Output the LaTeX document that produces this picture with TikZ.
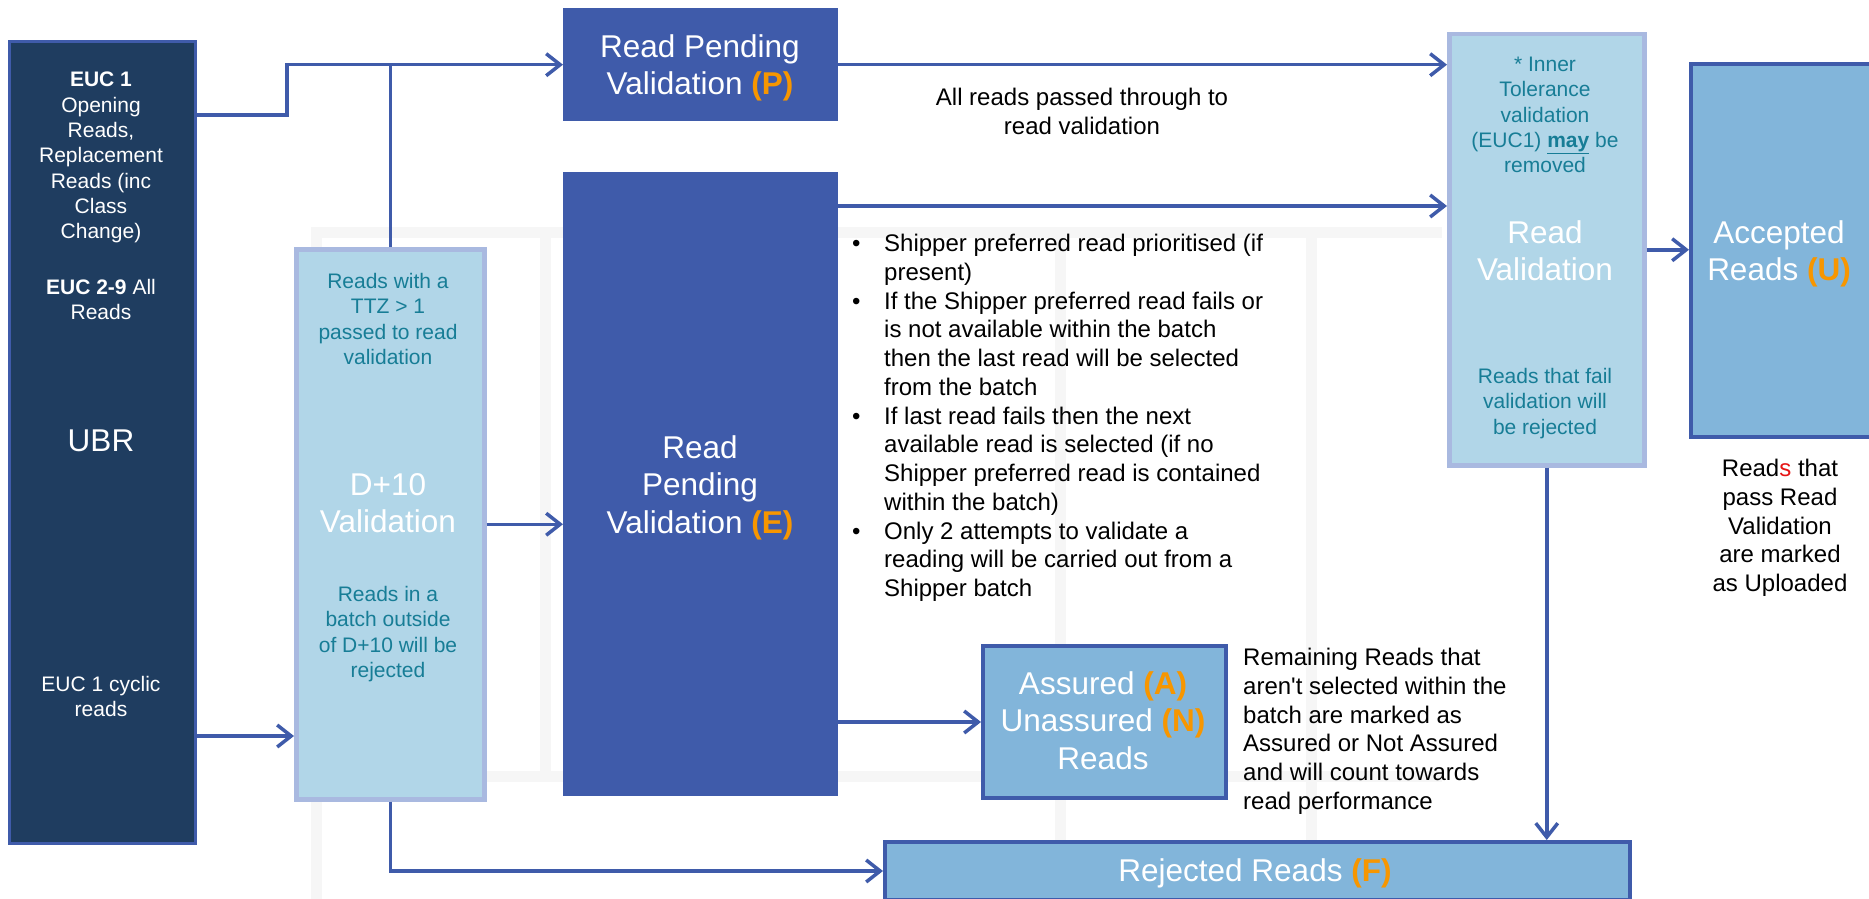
\documentclass[tikz,border=0pt]{standalone}
\usepackage{fontspec}
\setmainfont{Liberation Sans}
\usetikzlibrary{arrows.meta}
\definecolor{navyfill}{RGB}{31,61,96}
\definecolor{lineblue}{RGB}{63,91,170}
\definecolor{paleblue}{RGB}{177,214,232}
\definecolor{lavborder}{RGB}{169,185,224}
\definecolor{midblue}{RGB}{130,181,218}
\definecolor{tealtext}{RGB}{23,125,150}
\definecolor{orangetag}{RGB}{247,150,0}
\definecolor{redletter}{RGB}{230,20,20}
\definecolor{watermark}{RGB}{246,246,246}
\newcommand{\fsz}[2]{\fontsize{#1}{#2}\selectfont}
\newcommand{\tagO}[1]{\textbf{\textcolor{orangetag}{#1}}}
\newcommand{\bul}{\makebox[32pt][l]{\textbullet}}
\newcommand{\ind}{\hspace*{32pt}}
\tikzset{
  box/.style={rectangle, inner sep=0pt, anchor=north west},
  navybox/.style={box, fill=navyfill, draw=lineblue, line width=3pt},
  darkbox/.style={box, fill=lineblue},
  palebox/.style={box, fill=paleblue, draw=lavborder, line width=4.5pt},
  midbox/.style={box, fill=midblue, draw=lineblue, line width=4pt},
  txt/.style={inner sep=0pt, align=center, anchor=north},
  ltxt/.style={inner sep=0pt, align=left, anchor=north west},
  small/.style={font=\fsz{21}{25.3}},
  big/.style={font=\fsz{31.5}{37.8}},
  note/.style={font=\fsz{24}{28.75}},
  conn/.style={draw=lineblue, line width=3.5pt},
  arr/.style={conn, -{Straight Barb[length=14pt, width=22pt, line width=3.5pt]}},
  wmark/.style={draw=watermark, line width=11pt},
}
\begin{document}
\begin{tikzpicture}[x=1pt, y=-1pt]
\useasboundingbox (0,0) rectangle (1869,899);
\clip (0,0) rectangle (1869,899);
\fill[white] (0,0) rectangle (1869,899);
% faint watermark
\draw[wmark] (316,905) -- (316,232) -- (1442,232);
\draw[wmark] (316,776) -- (1442,776);
\draw[wmark] (545,232) -- (545,776);
\draw[wmark] (1060,232) -- (1060,905);
\draw[wmark] (1311,232) -- (1311,905);
% boxes
\node[navybox, minimum width=186pt, minimum height=802pt] (ubr) at (8,40) {};
\node[darkbox, minimum width=275pt, minimum height=113pt] (pv) at (563,8) {};
\node[darkbox, minimum width=275pt, minimum height=624pt] (ev) at (563,172) {};
\node[palebox, minimum width=188pt, minimum height=550pt] (d10) at (294,247) {};
\node[palebox, minimum width=195pt, minimum height=431pt] (rv) at (1447,32) {};
\node[midbox, minimum width=200pt, minimum height=373pt] (acc) at (1689,62) {};
\node[midbox, minimum width=243pt, minimum height=152pt] (asr) at (981,644) {};
\node[midbox, minimum width=745pt, minimum height=58pt] (rej) at (883,840) {};
% coordinates for connector routing
\coordinate (jP) at (287,115);
\coordinate (yE) at (0,206);
\coordinate (yC) at (0,736);
% connectors
\draw[arr] (ubr.east |- jP) -- (jP) |- (pv.west);
\draw[conn] (d10.north) -- (d10.north |- pv.west);
\draw[arr] (pv.east) -- (pv.east -| rv.west);
\draw[arr] (ev.east |- yE) -- (rv.west |- yE);
\draw[arr] (rv.east) -- (rv.east -| acc.west);
\draw[arr] (ubr.east |- yC) -- (d10.west |- yC);
\draw[arr] (d10.east) -- (d10.east -| ev.west);
\draw[arr] (ev.east |- asr.west) -- (asr.west);
\draw[arr] (d10.south) |- (rej.west);
\draw[arr] (rv.south) -- (rv.south |- rej.north);
% texts in UBR
\node[txt, small, text=white] (ubrA) at (101,72) {\textbf{EUC 1}\\Opening\\Reads,\\Replacement\\Reads (inc\\Class\\Change)};
\node[txt, small, text=white] (ubrB) at (101,279) {\textbf{EUC 2-9} All\\Reads};
\node[txt, big, text=white] (ubrC) at (101,430) {UBR};
\node[txt, small, text=white] (ubrD) at (101,676) {EUC 1 cyclic\\reads};
% texts in D+10
\node[txt, small, text=tealtext] (d10A) at (388,273) {Reads with a\\TTZ > 1\\passed to read\\validation};
\node[txt, big, text=white] (d10B) at (388,473) {D+10\\Validation};
\node[txt, small, text=tealtext] (d10C) at (388,586) {Reads in a\\batch outside\\of D+10 will be\\rejected};
% pending boxes
\node[txt, big, text=white] (pvT) at (700,34) {Read Pending\\Validation \tagO{(P)}};
\node[txt, big, text=white] (evT) at (700,435) {Read\\Pending\\Validation \tagO{(E)}};
% read validation
\node[txt, small, text=tealtext] (rvA) at (1545,57) {* Inner\\Tolerance\\validation\\(EUC1) \underline{\textbf{may}} be\\removed};
\node[txt, big, text=white] (rvB) at (1545,220) {Read\\Validation};
\node[txt, small, text=tealtext] (rvC) at (1545,368) {Reads that fail\\validation will\\be rejected};
% outcome boxes
\node[txt, big, text=white] (accT) at (1779,220) {Accepted\\Reads \tagO{(U)}};
\node[txt, big, text=white] (asrT) at (1103,671) {Assured \tagO{(A)}\\Unassured \tagO{(N)}\\Reads};
\node[txt, big, text=white] (rejT) at (1255,858) {Rejected Reads \tagO{(F)}};
% notes
\node[txt, note] (noteP) at (1082,88) {All reads passed through to\\read validation};
\node[txt, note] (noteU) at (1780,459) {Read\textcolor{redletter}{s} that\\pass Read\\Validation\\are marked\\as Uploaded};
\node[ltxt, note] (noteA) at (1243,648) {Remaining Reads that\\aren\textquotesingle t selected within the\\batch are marked as\\Assured or Not Assured\\and will count towards\\read performance};
\node[ltxt, note] (noteE) at (852,234) {\bul Shipper preferred read prioritised (if\\\ind present)\\\bul If the Shipper preferred read fails or\\\ind is not available within the batch\\\ind then the last read will be selected\\\ind from the batch\\\bul If last read fails then the next\\\ind available read is selected (if no\\\ind Shipper preferred read is contained\\\ind within the batch)\\\bul Only 2 attempts to validate a\\\ind reading will be carried out from a\\\ind Shipper batch};
\end{tikzpicture}
\end{document}
